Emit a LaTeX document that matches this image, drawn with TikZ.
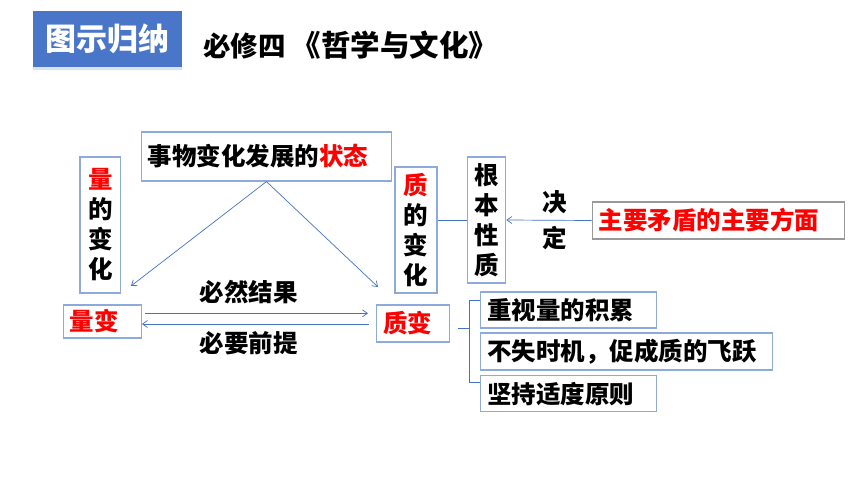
\documentclass[tikz,border=0pt]{standalone}
\usepackage{fontspec}
\newfontfamily\cjk{Noto Sans CJK SC}
\usetikzlibrary{positioning, calc, shadows, arrows.meta}
\definecolor{boxblue}{HTML}{8EA9DB}
\definecolor{linkblue}{HTML}{4472C4}
\definecolor{titleblue}{HTML}{4A76C9}

\begin{document}
\begin{tikzpicture}[x=1pt,y=1pt]
\tikzset{hbox/.style={
    rectangle, draw=boxblue, line width=1.2pt, anchor=west, inner xsep=6.5pt, inner ysep=0pt, align=left, font=\cjk\bfseries\fontsize{24.5}{30}\selectfont},
    vbox/.style={
    rectangle, draw=boxblue, line width=1.2pt, inner sep=0pt, align=center, font=\cjk\bfseries\fontsize{24.5}{30}\selectfont},
    link/.style={draw=linkblue, line width=0.7pt},
    tag/.style={font=\cjk\bfseries\fontsize{24.5}{36}\selectfont, align=center, inner sep=0pt}
}
    \useasboundingbox[fill=white] (0,0) rectangle (860,-484);

    % title bar
    \node[rectangle, fill=titleblue, minimum width=149, minimum height=56, inner sep=0pt,
          drop shadow={opacity=0.35, shadow xshift=0pt, shadow yshift=-3pt, fill=titleblue!60},
          text=white, font=\cjk\bfseries\fontsize{31}{31}\selectfont] (title) at (107.5,-39) {图示归纳};
    \node[anchor=west, inner sep=0pt, font=\cjk\bfseries\fontsize{27.5}{27.5}\selectfont] (subtitle) at (203,-45) {必修四\hspace{6pt}{\fontsize{29.5}{29.5}\selectfont《哲学与文化》}};

    % boxes
    \node[hbox, text width=237.3, minimum height=49] (state) at (140.7,-156.5) {事物变化发展的\textcolor{red}{状态}};
    \node[vbox, minimum width=40.7, minimum height=136] (liang) at (100.3,-225) {\textcolor{red}{量}\\的\\变\\化};
    \node[vbox, minimum width=42, minimum height=126] (zhi) at (416,-230) {\textcolor{red}{质}\\的\\变\\化};
    \node[vbox, minimum width=38, minimum height=126] (genben) at (486.7,-220) {根\\本\\性\\质};
    \node[hbox, draw=gray!80, text width=239.3, minimum height=37, text=red] (zhuyao) at (591.7,-220.5) {主要矛盾的主要方面};
    \node[hbox, text width=65, minimum height=33, text=red] (liangbian) at (62.7,-321.5) {量变};
    \node[hbox, text width=60, minimum height=37, text=red] (zhibian) at (376,-323.5) {质变};
    \node[hbox, text width=162.7, minimum height=36] (b1) at (480,-310) {重视量的积累};
    \node[hbox, text width=279, minimum height=37] (b2) at (480,-351.5) {不失时机，促成质的飞跃};
    \node[hbox, text width=162.7, minimum height=36] (b3) at (480,-393.7) {坚持适度原则};

    % labels
    \node[tag] (biran) at (248.5,-292.5) {必然结果};
    \node[tag] (biyao) at (248.5,-343) {必要前提};
    \node[tag] (jueding) at (555,-220) {决\\定};

    % connectors
    \coordinate (tipL) at (131,-286);
    \coordinate (tipR) at (378,-287);
    \draw[link,-{Straight Barb[length=5pt,width=7pt]}] (state.south) -- (tipL);
    \draw[link,-{Straight Barb[length=5pt,width=7pt]}] (state.south) -- (tipR);
    \draw[link,-{Straight Barb[length=5pt,width=7pt]}] ([shift={(3,8.2)}]liangbian.east) -- ([shift={(-8,10.2)}]zhibian.west);
    \draw[link,-{Straight Barb[length=5pt,width=7pt]}] ([shift={(-7,-0.5)}]zhibian.west) -- ([shift={(0,-2.5)}]liangbian.east);
    \draw[link] (zhi.east |- genben.west) -- (genben.west);
    \draw[link,-{Straight Barb[length=5pt,width=7pt]}] (zhuyao.west) -- (genben.east);

    \coordinate (brk) at (469,-328.3);
    \coordinate (brtop) at (469,-300.7);
    \coordinate (brbot) at (469,-382.3);
    \draw[link] ([xshift=8pt]zhibian.east |- brk) -- (brk);
    \draw[link] (brtop -| b1.west) -- (brtop) -- (brbot) -- (brbot -| b3.west);

\end{tikzpicture}
\end{document}
